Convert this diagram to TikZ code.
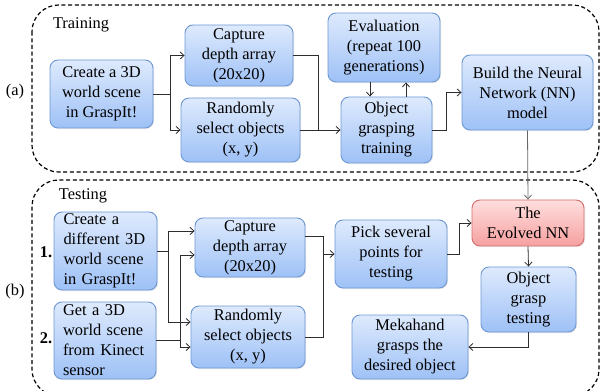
\documentclass[tikz,border=0pt]{standalone}
\usepackage{fontspec}
\setmainfont{Liberation Serif}
\usetikzlibrary{arrows.meta,shadows}
\definecolor{bluetop}{RGB}{222,234,253}
\definecolor{bluebot}{RGB}{158,193,246}
\definecolor{blueedge}{RGB}{110,152,212}
\definecolor{redtop}{RGB}{255,222,222}
\definecolor{redbot}{RGB}{246,160,160}
\definecolor{rededge}{RGB}{212,110,110}
\definecolor{linecol}{RGB}{45,45,45}
\tikzset{
  box/.style={draw=blueedge, line width=0.7pt, rounded corners=6pt, top color=bluetop, bottom color=bluebot,
    align=center, inner sep=1pt, font=\fontsize{12.3}{15}\selectfont,
    drop shadow={opacity=0.18, shadow xshift=0.8pt, shadow yshift=-0.8pt}},
  redbox/.style={box, draw=rededge, top color=redtop, bottom color=redbot},
  arr/.style={draw=linecol, line width=0.6pt, -{Straight Barb[length=3pt,width=5.5pt]}},
  ln/.style={draw=linecol, line width=0.6pt},
  frame/.style={draw=black, line width=0.9pt, dash pattern=on 3pt off 2pt, rounded corners=20pt},
  lbl/.style={font=\fontsize{12.3}{15}\selectfont, inner sep=0pt}
}
\begin{document}
\begin{tikzpicture}[x=0.75pt,y=-0.75pt]
\useasboundingbox (0,0) rectangle (602,391);
% frames
\draw[frame] (32,5) rectangle (599,172);
\draw[frame] (32,180) rectangle (599,396);
\node[lbl] (la) at (15,92) {(a)};
\node[lbl] (lb) at (15,292) {(b)};
\node[lbl] (ttrain) at (81,25) {Training};
\node[lbl] (ttest) at (83,196) {Testing};
\node[lbl] (n1) at (46,252) {\textbf{1.}};
\node[lbl] (n2) at (46,338) {\textbf{2.}};
% training nodes
\node[box, minimum width=103*0.75pt, minimum height=68*0.75pt] (c1) at (101.5,94) {Create a 3D\\world scene\\in GraspIt!};
\node[box, minimum width=108*0.75pt, minimum height=61*0.75pt] (cap1) at (239,55.5) {Capture\\depth array\\(20x20)};
\node[box, minimum width=119*0.75pt, minimum height=64*0.75pt] (rnd1) at (240.5,130) {Randomly\\select objects\\(x, y)};
\node[box, minimum width=112*0.75pt, minimum height=69*0.75pt] (eval) at (384,47.5) {Evaluation\\(repeat 100\\generations)};
\node[box, minimum width=91*0.75pt, minimum height=66*0.75pt] (ogt) at (386.5,130) {Object\\grasping\\training};
\node[box, minimum width=131*0.75pt, minimum height=75*0.75pt] (bnn) at (527.5,92.5) {Build the Neural\\Network (NN)\\model};
% testing nodes
\node[box, align=left, minimum width=103*0.75pt, minimum height=78*0.75pt, text width=84*0.75pt] (cd) at (105.5,251) {Create a\\different 3D\\world scene\\in GraspIt!};
\node[box, align=left, minimum width=102*0.75pt, minimum height=77*0.75pt, text width=84*0.75pt] (g3) at (105,340.5) {Get a 3D\\world scene\\from Kinect\\sensor};
\node[box, minimum width=110*0.75pt, minimum height=59*0.75pt] (cap2) at (250,247.5) {Capture\\depth array\\(20x20)};
\node[box, minimum width=114*0.75pt, minimum height=62*0.75pt] (rnd2) at (248,337) {Randomly\\select objects\\(x, y)};
\node[box, minimum width=112*0.75pt, minimum height=68*0.75pt] (pick) at (391,254) {Pick several\\points for\\testing};
\node[redbox, minimum width=112*0.75pt, minimum height=46*0.75pt] (evo) at (528,223) {The\\Evolved NN};
\node[box, minimum width=95*0.75pt, minimum height=65*0.75pt] (ogtest) at (528.5,299.5) {Object\\grasp\\testing};
\node[box, minimum width=116*0.75pt, minimum height=64*0.75pt] (meka) at (410,347) {Mekahand\\grasps the\\desired object};
% training connectors
\draw[arr] (c1.east) -- ++(17,0) |- (cap1.west);
\draw[arr] (c1.east) -- ++(17,0) |- (rnd1.west);
\coordinate (j1) at (318,130);
\draw[ln] (cap1.east) -| (j1);
\draw[arr] (rnd1.east) -- (ogt.west);
\draw[arr] ([xshift=-10.5pt]eval.south) -- ([xshift=-10.5pt]eval.south |- ogt.north);
\draw[arr] ([xshift=16.5pt]eval.south |- ogt.north) -- ([xshift=16.5pt]eval.south);
\draw[arr] (ogt.east) -- ++(14,0) |- (bnn.west);
\draw[arr, draw=black!60] (bnn.south) -- (evo.north);
% testing connectors
\draw[arr] (cd.east) -- ++(11,0) |- ([yshift=12.4pt]cap2.west);
\draw[arr] (cd.east) -- ++(11,0) |- ([yshift=11.25pt]rnd2.west);
\draw[arr] (g3.east) -- ++(24,0) |- ([yshift=-5.6pt]cap2.west);
\draw[arr] (g3.east) -- ++(24,0) |- ([yshift=-7.5pt]rnd2.west);
\coordinate (j2) at (323,254);
\draw[ln] ([yshift=8.6pt]cap2.east) -| (j2);
\draw[ln] (rnd2.east) -| (j2);
\draw[arr] (j2) -- (pick.west);
\draw[arr] (pick.east) -- ++(12,0) |- (evo.west);
\draw[arr] (evo.south) -- (ogtest.north);
\draw[arr] (ogtest.south) |- (meka.east);
\end{tikzpicture}
\end{document}
